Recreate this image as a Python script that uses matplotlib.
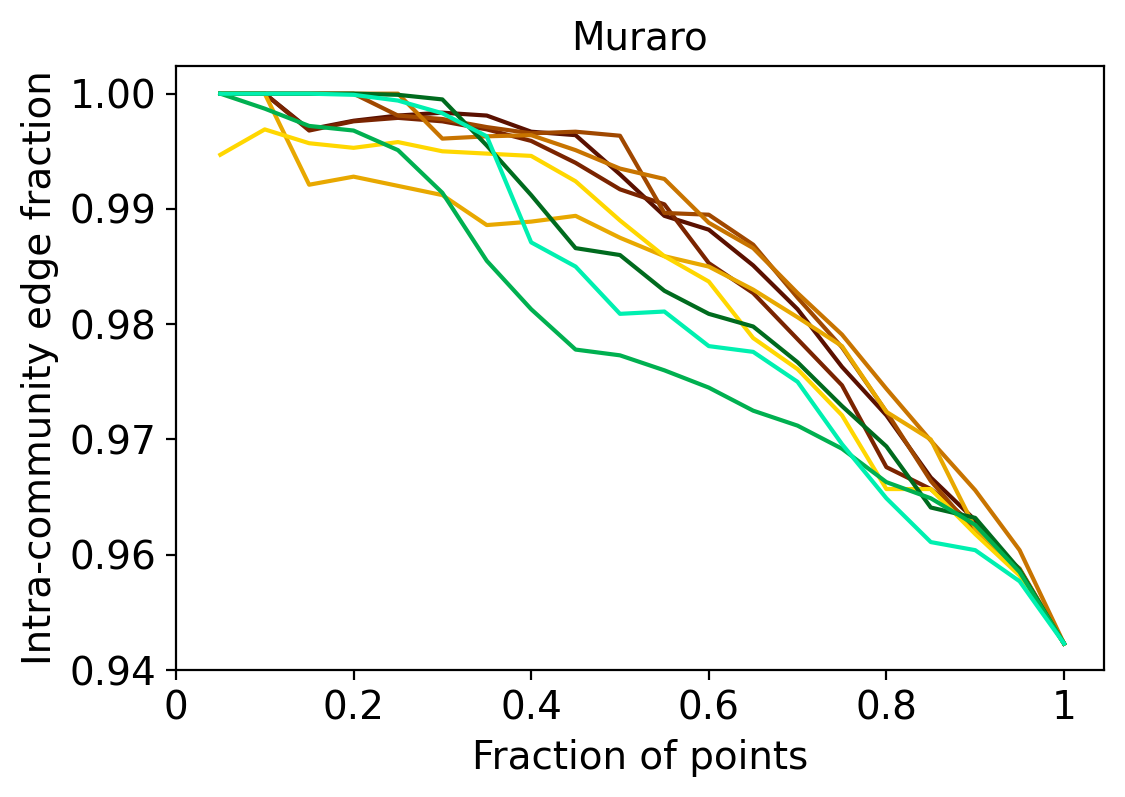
import numpy as np
import matplotlib
matplotlib.use("Agg")
from matplotlib import pyplot as plt

# fraction of points kept
frac = [0.05, 0.10, 0.15, 0.20, 0.25, 0.30, 0.35, 0.40, 0.45, 0.50,
        0.55, 0.60, 0.65, 0.70, 0.75, 0.80, 0.85, 0.90, 0.95, 1.00]

# one curve per run
run_darkest = [1.0, 1.0, 0.9969, 0.99765, 0.9981, 0.99835, 0.9981, 0.9967, 0.9964, 0.9930,
               0.9894, 0.9882, 0.9851, 0.9813, 0.9763, 0.9721, 0.9667, 0.9630, 0.9585, 0.9523]
run_brown = [1.0, 1.0, 0.9968, 0.9976, 0.9979, 0.9976, 0.9969, 0.9959, 0.9940, 0.9917,
             0.9904, 0.9853, 0.9827, 0.9787, 0.9747, 0.9676, 0.9657, 0.9625, 0.9585, 0.9523]
run_rust = [1.0, 1.0, 1.0, 1.0, 0.9981, 0.9978, 0.9971, 0.99656, 0.9967, 0.99635,
            0.98965, 0.9895, 0.9869, 0.9823, 0.9780, 0.9724, 0.9664, 0.9620, 0.9588, 0.9523]
run_orange = [1.0, 1.0, 1.0, 1.0, 1.0, 0.9961, 0.9963, 0.9964, 0.9951, 0.9935,
              0.9926, 0.9888, 0.9866, 0.9827, 0.9791, 0.9744, 0.9699, 0.9656, 0.9604, 0.9523]
run_gold = [1.0, 1.0, 0.9921, 0.9928, 0.9920, 0.9912, 0.9886, 0.9889, 0.9894, 0.9875,
            0.9859, 0.9850, 0.9830, 0.9806, 0.9781, 0.9724, 0.9700, 0.9623, 0.9587, 0.9523]
run_yellow = [0.9947, 0.9969, 0.9957, 0.9953, 0.9958, 0.9950, 0.9948, 0.9946, 0.9924, 0.9890,
              0.9859, 0.9837, 0.9788, 0.9761, 0.9721, 0.9657, 0.9657, 0.9618, 0.9582, 0.9523]
run_darkgreen = [1.0, 1.0, 1.0, 1.0, 0.9999, 0.9995, 0.9955, 0.9912, 0.9866, 0.9860,
                 0.9829, 0.9809, 0.9798, 0.9767, 0.9729, 0.9694, 0.9641, 0.9632, 0.9587, 0.9523]
run_green = [1.0, 0.9987, 0.9972, 0.9968, 0.9951, 0.9914, 0.9855, 0.9813, 0.9778, 0.9773,
             0.9760, 0.9745, 0.9725, 0.9712, 0.9692, 0.9663, 0.9649, 0.9626, 0.9585, 0.9523]
run_aqua = [1.0, 1.0, 1.0, 0.9999, 0.9994, 0.9983, 0.9963, 0.9871, 0.9850, 0.9809,
            0.9811, 0.9781, 0.9776, 0.9750, 0.9696, 0.9649, 0.9611, 0.9604, 0.9577, 0.9523]

runs = [run_darkest, run_brown, run_rust, run_orange, run_gold,
        run_yellow, run_darkgreen, run_green, run_aqua]
colors = ['#5a1000', '#7a2400', '#a04800', '#c87400', '#e8a800',
          '#ffd700', '#006b1e', '#00b050', '#00f0b0']

xtick_pos = [0, 0.2, 0.4, 0.6, 0.8, 1.0]
xtick_lab = ['0', '0.2', '0.4', '0.6', '0.8', '1']
ytick_pos = [0.95, 0.96, 0.97, 0.98, 0.99, 1.00]
ytick_lab = ['0.94', '0.96', '0.97', '0.98', '0.99', '1.00']

fig = plt.figure(figsize=(5.625, 3.985), dpi=200)
ax = fig.add_axes([0.1564, 0.1593, 0.8249, 0.7579])

for ys, c in zip(runs, colors):
    ax.plot(frac, ys, color=c, linewidth=1.5)

ax.set_xlim(0, 1.045)
ax.set_ylim(0.95, 1.0024)
ax.set_xticks(xtick_pos)
ax.set_xticklabels(xtick_lab)
ax.set_yticks(ytick_pos)
ax.set_yticklabels(ytick_lab)
ax.tick_params(labelsize=14)

ax.set_xlabel('Fraction of points', fontsize=14)
ax.set_ylabel('Intra-community edge fraction', fontsize=14)
ax.set_title('Muraro', fontsize=14)

plt.savefig('out.png', dpi=200)
